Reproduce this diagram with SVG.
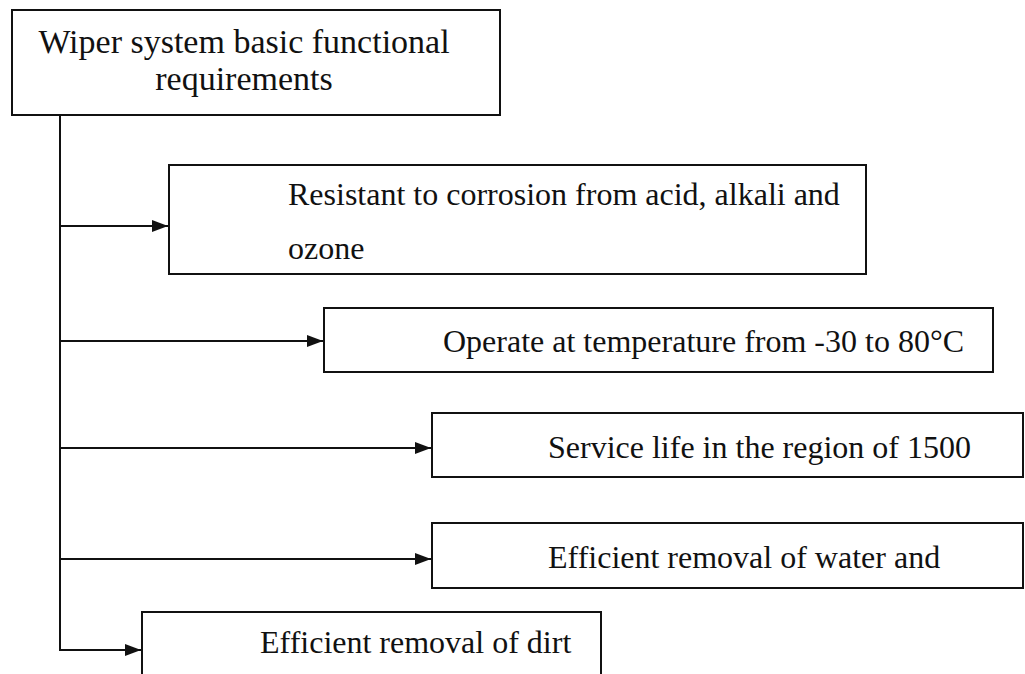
<svg xmlns="http://www.w3.org/2000/svg" width="1025" height="674" viewBox="0 0 1025 674">
<defs>
<marker id="arr" viewBox="0 0 16 12" refX="16" refY="6" markerWidth="16" markerHeight="12" markerUnits="userSpaceOnUse" orient="auto">
<path d="M0,0 L16,6 L0,12 Z" fill="#111"/>
</marker>
</defs>
<style>
.box{fill:#fff;stroke:#111;stroke-width:2}
.t{font-family:"Liberation Serif","Times New Roman",serif;font-size:32px;fill:#111}
.c{stroke:#111;stroke-width:2;fill:none}
</style>
<rect width="1025" height="674" fill="#fff"/>
<g id="connectors">
<line class="c" x1="60" y1="115" x2="60" y2="651"/>
<line class="c" x1="60" y1="226" x2="168" y2="226" marker-end="url(#arr)"/>
<line class="c" x1="60" y1="341" x2="323" y2="341" marker-end="url(#arr)"/>
<line class="c" x1="60" y1="448" x2="431" y2="448" marker-end="url(#arr)"/>
<line class="c" x1="60" y1="559" x2="431" y2="559" marker-end="url(#arr)"/>
<line class="c" x1="59" y1="650" x2="141" y2="650" marker-end="url(#arr)"/>
</g>
<g id="root">
<rect class="box" x="12" y="10" width="488" height="105"/>
<text class="t" x="244" y="53" text-anchor="middle" style="font-size:34px">Wiper system basic functional</text>
<text class="t" x="244" y="90" text-anchor="middle" style="font-size:34px">requirements</text>
</g>
<g id="n1">
<rect class="box" x="169" y="165" width="697" height="109"/>
<text class="t" x="288" y="205">Resistant to corrosion from acid, alkali and</text>
<text class="t" x="288" y="259">ozone</text>
</g>
<g id="n2">
<rect class="box" x="324" y="308" width="669" height="64"/>
<text class="t" x="443" y="352">Operate at temperature from -30 to 80°C</text>
</g>
<g id="n3">
<rect class="box" x="432" y="413" width="591" height="64"/>
<text class="t" x="548" y="458">Service life in the region of 1500</text>
</g>
<g id="n4">
<rect class="box" x="432" y="523" width="591" height="65"/>
<text class="t" x="548" y="568">Efficient removal of water and</text>
</g>
<g id="n5">
<rect class="box" x="142" y="612" width="459" height="80"/>
<text class="t" x="260" y="653">Efficient removal of dirt</text>
</g>
</svg>
